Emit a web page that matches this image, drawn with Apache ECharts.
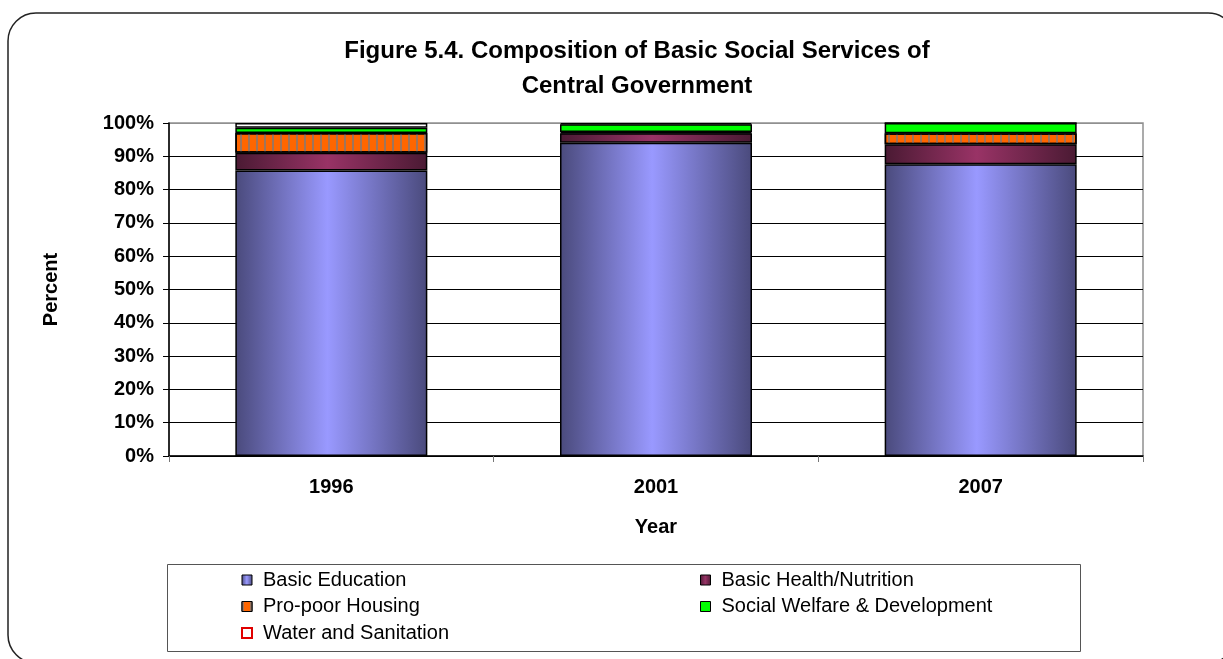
<!DOCTYPE html>
<html>
<head>
<meta charset="utf-8">
<script src="https://cdn.jsdelivr.net/npm/echarts@6/dist/echarts.min.js"></script>
<style>html,body{margin:0;padding:0;background:#fff}#c{width:1223px;height:659px}</style>
</head>
<body>
<div id="c"></div>
<script>
const categories = ['1996', '2001', '2007'];
const basicEducation = [85.7, 94.1, 87.6];
const basicHealth = [5.4, 2.8, 6.0];
const proPoorHousing = [5.9, 0.4, 3.3];
const socialWelfare = [1.6, 2.3, 3.1];
const waterSanitation = [1.4, 0.4, 0];
const yTicks = [0, 10, 20, 30, 40, 50, 60, 70, 80, 90, 100];

function grad(edge, mid) {
  return new echarts.graphic.LinearGradient(0, 0, 1, 0, [
    { offset: 0, color: edge },
    { offset: 0.48, color: mid },
    { offset: 1, color: edge }
  ]);
}
const FONT = '"Liberation Sans", Arial, sans-serif';
const chart = echarts.init(document.getElementById('c'), null, { renderer: 'canvas' });
const base = {
  type: 'bar', stack: 'total', barWidth: 192,
  emphasis: { disabled: true }
};
const legendText = { fontFamily: FONT, fontSize: 20, color: '#000', lineHeight: 20, padding: [0, 0, 0, 6] };
chart.setOption({
  animation: false,
  backgroundColor: '#fff',
  title: {
    text: 'Figure 5.4. Composition of Basic Social Services of\nCentral Government',
    left: 632, top: 29, textAlign: 'center',
    textStyle: { fontFamily: FONT, fontSize: 24, fontWeight: 'bold', color: '#000', lineHeight: 35 }
  },
  graphic: [
    { type: 'rect', shape: { x: 8, y: 13, width: 1228, height: 650, r: 28 }, style: { fill: 'none', stroke: '#222', lineWidth: 1.5 }, z: -10 },
    { type: 'rect', shape: { x: 167.5, y: 564.5, width: 913, height: 87 }, style: { fill: '#fff', stroke: '#555', lineWidth: 1 }, z: -5 }
  ],
  grid: { left: 169, right: 80, top: 123, bottom: 203, show: true, borderColor: '#909090', borderWidth: 1.5, backgroundColor: '#fff' },
  legend: [
    {
      orient: 'vertical', left: 241, top: 570, padding: 0, itemWidth: 10, itemHeight: 10, itemGap: 6.5, icon: 'rect',
      data: ['Basic Education', 'Pro-poor Housing',
        { name: 'Water and Sanitation', itemStyle: { borderColor: '#e00000', borderWidth: 2 } }],
      textStyle: legendText,
      itemStyle: { borderColor: '#000', borderWidth: 1 }
    },
    {
      orient: 'vertical', left: 700, top: 570, padding: 0, itemWidth: 10, itemHeight: 10, itemGap: 6.5, icon: 'rect',
      data: ['Basic Health/Nutrition', 'Social Welfare & Development'],
      textStyle: legendText,
      itemStyle: { borderColor: '#000', borderWidth: 1 }
    }
  ],
  xAxis: {
    type: 'category', data: categories,
    name: 'Year', nameLocation: 'middle', nameGap: 61,
    nameTextStyle: { fontFamily: FONT, fontSize: 20, fontWeight: 'bold', color: '#000' },
    axisLine: { lineStyle: { color: '#000', width: 1.5 } },
    axisTick: { show: true, length: 6, lineStyle: { color: '#777' } },
    axisLabel: { margin: 21, fontFamily: FONT, fontSize: 20, fontWeight: 'bold', color: '#000' }
  },
  yAxis: {
    type: 'value', min: yTicks[0], max: yTicks[yTicks.length - 1], interval: 10,
    name: 'Percent', nameLocation: 'middle', nameGap: 108,
    nameTextStyle: { fontFamily: FONT, fontSize: 20, fontWeight: 'bold', color: '#000' },
    axisLine: { show: true, lineStyle: { color: '#000', width: 1.5 } },
    axisTick: { show: true, length: 6, lineStyle: { color: '#000' } },
    axisLabel: { margin: 15, fontFamily: FONT, fontSize: 20, fontWeight: 'bold', color: '#000', formatter: '{value}%' },
    splitLine: { show: true, lineStyle: { color: ['#000', '#000', '#000', '#000', '#000', '#000', '#000', '#000', '#000', '#000', '#909090'], width: 1 } }
  },
  series: [
    Object.assign({}, base, {
      name: 'Basic Education', data: basicEducation,
      itemStyle: { color: grad('#4a4a7c', '#9999ff'), borderColor: '#000', borderWidth: 1.5 }
    }),
    Object.assign({}, base, {
      name: 'Basic Health/Nutrition', data: basicHealth,
      itemStyle: { color: grad('#4a1a33', '#993366'), borderColor: '#000', borderWidth: 1.5 }
    }),
    Object.assign({}, base, {
      name: 'Pro-poor Housing', data: proPoorHousing,
      itemStyle: {
        color: '#ff6600', borderColor: '#000', borderWidth: 1.5,
        decal: { symbol: 'rect', symbolSize: 1, color: 'rgba(140,120,110,0.85)', dashArrayX: [2, 6], dashArrayY: [10, 0], rotation: 0 }
      }
    }),
    Object.assign({}, base, {
      name: 'Social Welfare & Development', data: socialWelfare,
      itemStyle: { color: '#00ff00', borderColor: '#000', borderWidth: 1.5 }
    }),
    Object.assign({}, base, {
      name: 'Water and Sanitation', data: waterSanitation,
      itemStyle: { color: '#ffffff', borderColor: '#000', borderWidth: 1.5 }
    })
  ]
});
</script>
</body>
</html>
